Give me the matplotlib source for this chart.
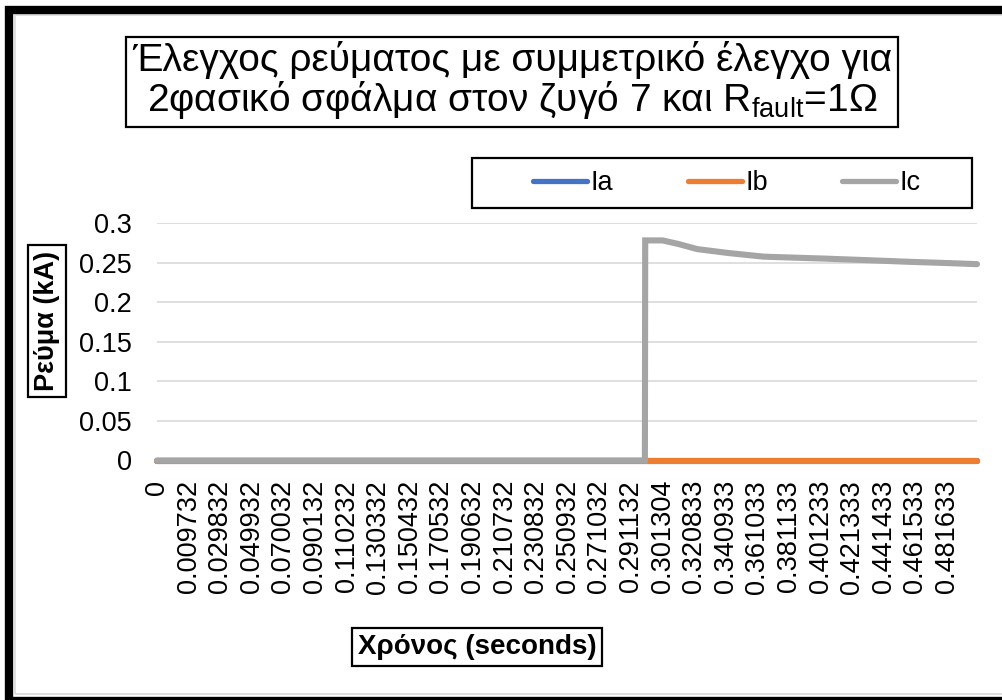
import matplotlib
matplotlib.use("Agg")
import matplotlib.pyplot as plt
from matplotlib.patches import Rectangle

plt.rcParams["font.family"] = ["Liberation Sans", "DejaVu Sans"]
plt.rcParams["mathtext.fontset"] = "custom"
plt.rcParams["mathtext.rm"] = "Liberation Sans"
plt.rcParams["mathtext.it"] = "Liberation Sans:italic"

# category labels of the time axis (seconds)
TIME_LABELS = ["0", "0.009732", "0.029832", "0.049932", "0.070032", "0.090132",
               "0.110232", "0.130332", "0.150432", "0.170532", "0.190632",
               "0.210732", "0.230832", "0.250932", "0.271032", "0.291132",
               "0.301304", "0.320833", "0.340933", "0.361033", "0.381133",
               "0.401233", "0.421333", "0.441433", "0.461533", "0.481633"]

# category position of the last sample
LAST_POS = 25.95

# phase currents (kA) at category positions
IA_POS = [0, LAST_POS]
IA_VAL = [0, 0]
IB_POS = [0, LAST_POS]
IB_VAL = [0, 0]
IC_POS = [0, 15.44, 15.45, 16.0, 16.5, 17.1, 18.1, 19.2, 20.35, 21.15, 22.5, 23.8, 25.3, LAST_POS]
IC_VAL = [0, 0, 0.278, 0.278, 0.2735, 0.267, 0.262, 0.2575, 0.256, 0.255, 0.253, 0.251, 0.249, 0.248]

Y_TICKS = [0, 0.05, 0.1, 0.15, 0.2, 0.25, 0.3]
Y_TICK_LABELS = ["0", "0.05", "0.1", "0.15", "0.2", "0.25", "0.3"]

TITLE = "Έλεγχος ρεύματος με συμμετρικό έλεγχο για\n2φασικό σφάλμα στον ζυγό 7 και R$_{\\mathrm{fault}}$=1Ω"

W, H = 1003, 700


def fx(px):
    return px / W


def fy(py):
    return 1 - py / H


fig = plt.figure(figsize=(W / 100, H / 100), dpi=100)

ax = fig.add_axes([fx(157), fy(460.5), fx(977 - 157), (460.5 - 223) / H])
lw = 4.4
ax.plot(IA_POS, IA_VAL, color="#4472C4", lw=lw, label="Ia", clip_on=False, solid_capstyle="round")
ax.plot(IB_POS, IB_VAL, color="#ED7D31", lw=lw, label="Ib", clip_on=False, solid_capstyle="round")
ax.plot(IC_POS, IC_VAL, color="#A5A5A5", lw=lw, label="Ic", clip_on=False,
        solid_capstyle="round", solid_joinstyle="miter")

ax.set_xlim(0, LAST_POS)
ax.set_ylim(0, 0.3)
ax.set_yticks(Y_TICKS)
ax.set_yticklabels(Y_TICK_LABELS, fontsize=19.5)
ax.set_xticks(range(len(TIME_LABELS)))
ax.set_xticklabels(TIME_LABELS, rotation=90, fontsize=19.5, va="top", ha="center")
ax.tick_params(axis="both", length=0)
ax.tick_params(axis="y", pad=18)
ax.tick_params(axis="x", pad=14)
ax.grid(axis="y", color="#d9d9d9", lw=1.2)
ax.set_axisbelow(True)
for s in ax.spines.values():
    s.set_visible(False)

# legend with its own frame
fig.patches.append(Rectangle((fx(472), fy(208)), fx(972 - 472), (208 - 158) / H,
                             transform=fig.transFigure, fill=False, ec="black", lw=1.6))
leg = ax.legend(loc="center", bbox_to_anchor=(fx(727), fy(183)), bbox_transform=fig.transFigure,
                ncol=3, frameon=False, fontsize=19.5, handlelength=2.0, handletextpad=0.12,
                columnspacing=2.75)
for h in leg.get_lines():
    h.set_linewidth(3.8)

box = dict(boxstyle="square,pad=0.22", fc="white", ec="black", lw=1.6)
fig.text(fx(512), fy(81), TITLE, ha="center", va="center", fontsize=28, linespacing=1.02,
         bbox=dict(boxstyle="square,pad=0.14", fc="white", ec="black", lw=1.6))
fig.text(fx(47), fy(321), "Ρεύμα (kA)", rotation=90, ha="center", va="center",
         fontsize=19.5, fontweight="bold", bbox=box)
fig.text(fx(477), fy(647), "Χρόνος (seconds)", ha="center", va="center",
         fontsize=20, fontweight="bold", bbox=box)

# outer chart frame
fig.patches.append(Rectangle((fx(15), fy(694)), fx(1010), (694 - 15) / H,
                             transform=fig.transFigure, fill=False, ec="#d9d9d9", lw=1.2))
fig.patches.append(Rectangle((fx(9.5), fy(701)), fx(1010), (701 - 10) / H,
                             transform=fig.transFigure, fill=False, ec="black", lw=6))

fig.savefig("out.png", dpi=100)
